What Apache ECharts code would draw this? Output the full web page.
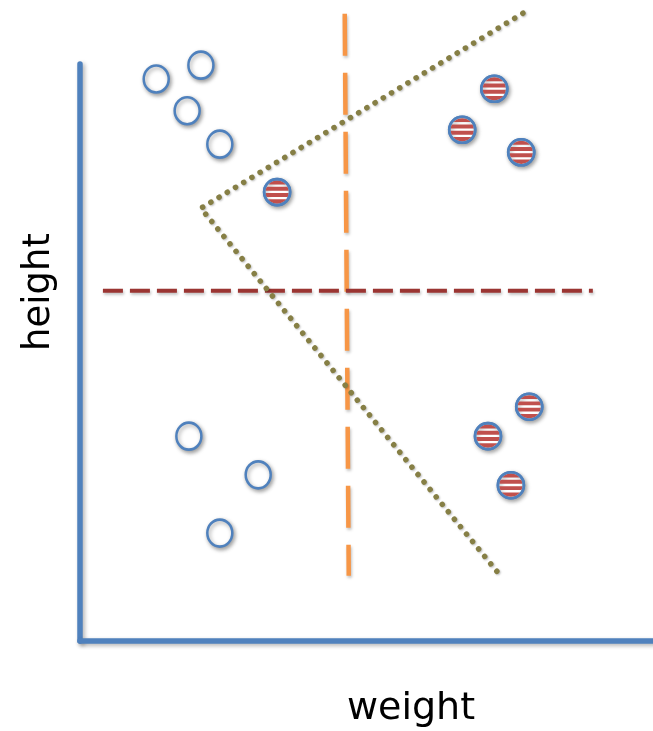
<!DOCTYPE html>
<html>
<head>
<meta charset="utf-8">
<script src="https://cdn.jsdelivr.net/npm/echarts@6/dist/echarts.min.js"></script>
<style>html,body{margin:0;padding:0;background:#fff;}#c{width:653px;height:731px;}</style>
</head>
<body>
<div id="c"></div>
<script>
// Data (weight, height) on a 0-100 scale
const openPoints = [[13.3,97.4],[21.1,99.8],[18.7,91.9],[24.4,86.1],[19.0,35.5],[31.1,28.8],[24.4,18.7]];
const stripedPoints = [[34.4,77.8],[72.3,95.7],[66.7,88.6],[77.0,84.7],[78.4,40.6],[71.2,35.5],[75.2,27.0]];
const verticalSplit = [[46.2,108.7],[46.9,11.3]];
const horizontalSplit = [[4.0,60.7],[89.5,60.7]];
const vBoundary = [[77.3,108.8],[21.1,75.0],[73.3,11.4]];
const xName = 'weight';
const yName = 'height';

const BLUE = '#4f81bd', RED = '#c0504d';
const chart = echarts.init(document.getElementById('c'), null, {renderer:'canvas'});

function stripedItem(params, api){
  const c = api.coord([api.value(0), api.value(1)]);
  const R = 13, r = 11.6;
  // band edges (relative, top to bottom): red, white, red, white, red, white, red
  const redBands = [[-1,-0.66],[-0.46,-0.12],[0.08,0.42],[0.62,1]];
  const kids = [{
    type:'circle', shape:{cx:c[0], cy:c[1], r:R},
    style:{fill:'#fff', stroke:BLUE, lineWidth:2.6, shadowBlur:4, shadowColor:'rgba(0,0,0,0.35)', shadowOffsetX:1.5, shadowOffsetY:2}
  }];
  redBands.forEach(function(bd){
    const y0 = bd[0]*r, y1 = bd[1]*r;
    const right=[], left=[];
    const n=8;
    for(let i=0;i<=n;i++){
      const t = y0 + (y1-y0)*i/n;
      const x = Math.sqrt(Math.max(0, r*r - t*t));
      right.push([c[0]+x, c[1]+t]);
      left.unshift([c[0]-x, c[1]+t]);
    }
    kids.push({type:'polygon', shape:{points:right.concat(left)}, style:{fill:RED}});
  });
  kids.push({type:'circle', shape:{cx:c[0], cy:c[1], r:R}, style:{fill:null, stroke:BLUE, lineWidth:2.6}});
  return {type:'group', children:kids};
}

const axisShadow = {shadowColor:'rgba(0,0,0,0.3)', shadowBlur:4, shadowOffsetX:2, shadowOffsetY:2};

chart.setOption({
  animation:false,
  backgroundColor:'#fff',
  grid:{left:80, top:64, right:0, bottom:90},
  xAxis:{type:'value', min:0, max:100, axisLine:{show:true, onZero:false, lineStyle:Object.assign({color:BLUE, width:5.5}, axisShadow)},
         axisTick:{show:false}, axisLabel:{show:false}, splitLine:{show:false}},
  yAxis:{type:'value', min:0, max:100, axisLine:{show:true, onZero:false, lineStyle:Object.assign({color:BLUE, width:5.5}, axisShadow)},
         axisTick:{show:false}, axisLabel:{show:false}, splitLine:{show:false}},
  graphic:[
    {type:'text', x:39, y:292, rotation:Math.PI/2, style:{text:yName, font:'37px "DejaVu Sans"', fill:'#000', textAlign:'center', textVerticalAlign:'middle'}},
    {type:'text', x:411, y:709, style:{text:xName, font:'38px "DejaVu Sans"', fill:'#000', textAlign:'center', textVerticalAlign:'middle'}}
  ],
  series:[
    {type:'line', data:verticalSplit, showSymbol:false, clip:false, silent:true,
     lineStyle:{color:'#f79646', width:4.5, type:[42,17], shadowColor:'rgba(0,0,0,0.25)', shadowBlur:3, shadowOffsetX:1, shadowOffsetY:2}},
    {type:'line', data:horizontalSplit, showSymbol:false, clip:false, silent:true,
     lineStyle:{color:'#9b3532', width:4, type:[20,7], shadowColor:'rgba(0,0,0,0.25)', shadowBlur:3, shadowOffsetX:1, shadowOffsetY:2}},
    {type:'line', data:vBoundary, showSymbol:false, clip:false, silent:true,
     lineStyle:{color:'#867f45', width:5.5, type:[0.1,9.5], cap:'round', join:'round', shadowColor:'rgba(0,0,0,0.25)', shadowBlur:2, shadowOffsetX:1, shadowOffsetY:1}},
    {type:'scatter', data:openPoints, symbol:'circle', symbolSize:[25,27], clip:false,
     itemStyle:{color:'#fff', borderColor:BLUE, borderWidth:2.6, shadowColor:'rgba(0,0,0,0.35)', shadowBlur:4, shadowOffsetX:1.5, shadowOffsetY:2, opacity:1}},
    {type:'custom', data:stripedPoints, clip:false, renderItem:stripedItem, encode:{x:0, y:1}}
  ]
});
</script>
</body>
</html>
